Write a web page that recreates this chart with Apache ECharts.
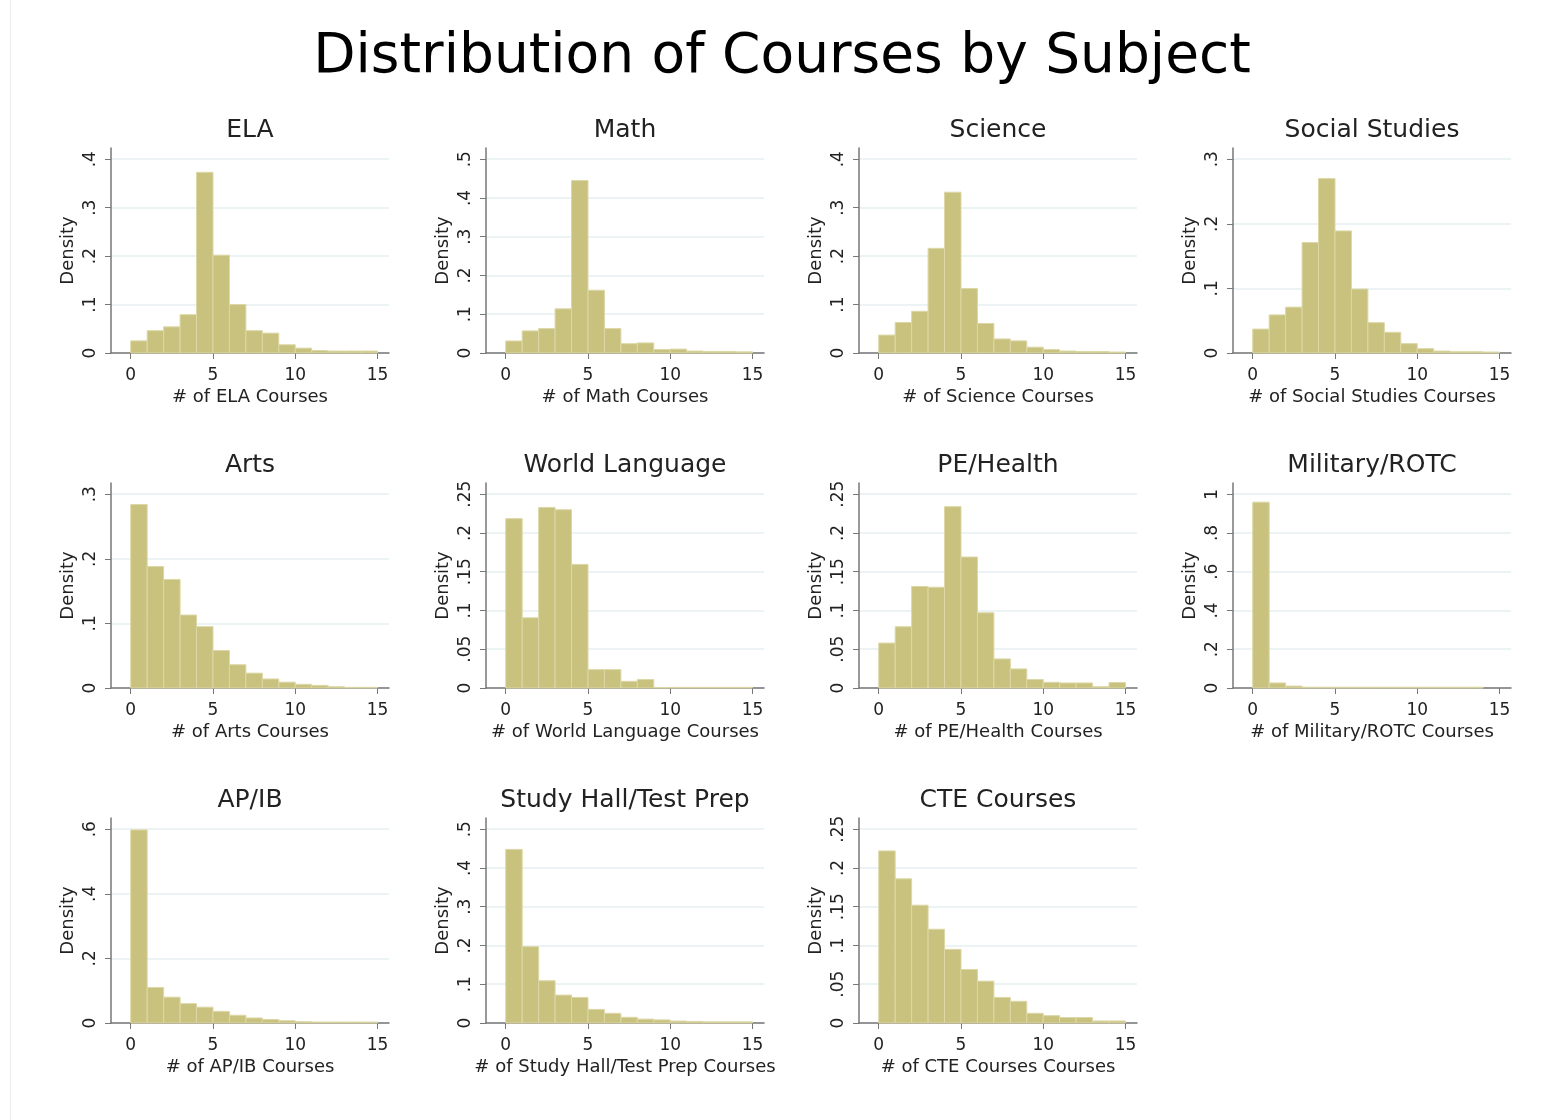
<!DOCTYPE html>
<html>
<head>
<meta charset="utf-8">
<script src="https://cdn.jsdelivr.net/npm/echarts@6/dist/echarts.min.js"></script>
<style>
  html, body { margin: 0; padding: 0; background: #fff; }
  #chart { width: 1541px; height: 1120px; }
</style>
</head>
<body>
<div id="chart"></div>
<script>
// ---------- DATA ----------
const mainTitle = 'Distribution of Courses by Subject';
const subjects = ['ELA', 'Math', 'Science', 'Social Studies', 'Arts', 'World Language',
  'PE/Health', 'Military/ROTC', 'AP/IB', 'Study Hall/Test Prep', 'CTE Courses'];
const binStarts = [0, 1, 2, 3, 4, 5, 6, 7, 8, 9, 10, 11, 12, 13, 14];
const binWidth = 1;

const densELA      = [0.025, 0.046, 0.054, 0.079, 0.373, 0.202, 0.100, 0.046, 0.041, 0.017, 0.010, 0.005, 0.004, 0.004, 0.004];
const densMath     = [0.031, 0.057, 0.063, 0.114, 0.445, 0.162, 0.063, 0.024, 0.026, 0.009, 0.010, 0.005, 0.004, 0.004, 0.003];
const densScience  = [0.037, 0.063, 0.086, 0.216, 0.332, 0.133, 0.061, 0.029, 0.025, 0.012, 0.007, 0.004, 0.003, 0.003, 0.002];
const densSocial   = [0.037, 0.059, 0.071, 0.171, 0.270, 0.189, 0.099, 0.047, 0.032, 0.0145, 0.0067, 0.003, 0.002, 0.002, 0.0015];
const densArts     = [0.284, 0.188, 0.168, 0.113, 0.095, 0.058, 0.036, 0.023, 0.014, 0.009, 0.0057, 0.004, 0.002, 0.001, 0.001];
const densWorldLang= [0.2185, 0.0905, 0.233, 0.230, 0.1595, 0.0237, 0.0237, 0.0086, 0.011, 0.0006, 0.0008, 0.0008, 0.0008, 0.0008, 0.0008];
const densPE       = [0.058, 0.079, 0.131, 0.130, 0.234, 0.169, 0.097, 0.0375, 0.0246, 0.011, 0.0073, 0.0065, 0.0065, 0.0017, 0.007];
const densMilitary = [0.959, 0.026, 0.010, 0.004, 0.004, 0.004, 0.004, 0.004, 0.004, 0.004, 0.004, 0.004, 0.004, 0.004, 0];
const densAPIB     = [0.598, 0.110, 0.080, 0.060, 0.049, 0.036, 0.024, 0.0155, 0.011, 0.007, 0.004, 0.003, 0.003, 0.003, 0.003];
const densStudy    = [0.448, 0.197, 0.109, 0.072, 0.066, 0.035, 0.025, 0.0147, 0.010, 0.008, 0.005, 0.004, 0.003, 0.003, 0.003];
const densCTE      = [0.222, 0.186, 0.152, 0.121, 0.095, 0.069, 0.054, 0.033, 0.028, 0.0125, 0.0095, 0.007, 0.007, 0.0026, 0.0026];

const densities = [densELA, densMath, densScience, densSocial, densArts, densWorldLang,
  densPE, densMilitary, densAPIB, densStudy, densCTE];

const xTickValues = [0, 5, 10, 15];
const yTopTick = [0.4, 0.5, 0.4, 0.3, 0.3, 0.25, 0.25, 1, 0.6, 0.5, 0.25];
const yTickStep = [0.1, 0.1, 0.1, 0.1, 0.1, 0.05, 0.05, 0.2, 0.2, 0.1, 0.05];

// ---------- LAYOUT ----------
const colLeft = [111, 486, 859, 1233];
const rowTop = [148, 483, 818];
const gridW = 278;
const gridH = 205;
const FONT = 'DejaVu Sans';

function yTicks(i) {
  const n = Math.round(yTopTick[i] / yTickStep[i]);
  const arr = [];
  for (let k = 0; k <= n; k++) arr.push(+(k * yTickStep[i]).toFixed(4));
  return arr;
}
function fmtY(v) {
  if (v === 0) return '0';
  return String(+(+v).toFixed(4)).replace(/^0\./, '.');
}

const grids = [], xAxes = [], yAxes = [], series = [], titles = [];
titles.push({
  text: mainTitle, left: 782, top: 30, textAlign: 'center', padding: 0,
  textStyle: { fontFamily: FONT, fontSize: 55, fontWeight: 'normal', color: '#000' }
});

subjects.forEach((name, i) => {
  const c = i % 4, r = Math.floor(i / 4);
  const left = colLeft[c], top = rowTop[r];
  grids.push({ left: left, top: top, width: gridW, height: gridH, containLabel: false, outerBoundsMode: 'none' });
  titles.push({
    text: name, left: left + gridW / 2, top: top - 30, textAlign: 'center', padding: 0,
    textStyle: { fontFamily: FONT, fontSize: 25, fontWeight: 'normal', color: '#222' }
  });
  xAxes.push({
    gridIndex: i, type: 'value', min: -1.2, max: 15.7,
    name: '# of ' + name + ' Courses', nameLocation: 'middle', nameGap: 35,
    nameTextStyle: { fontFamily: FONT, fontSize: 18, color: '#222' },
    axisLine: { onZero: false, lineStyle: { color: '#777', width: 1.5 } },
    axisTick: { show: true, length: 6, customValues: xTickValues, lineStyle: { color: '#777' } },
    axisLabel: { customValues: xTickValues, margin: 14, fontFamily: FONT, fontSize: 17, color: '#222' },
    splitLine: { show: false }
  });
  const yt = yTicks(i);
  yAxes.push({
    gridIndex: i, type: 'value', min: 0, max: yTopTick[i] * 1.058,
    name: 'Density', nameLocation: 'middle', nameGap: 34, nameRotate: 90,
    nameTextStyle: { fontFamily: FONT, fontSize: 18, color: '#222' },
    axisLine: { show: true, onZero: false, lineStyle: { color: '#777', width: 1.5 } },
    axisTick: { show: true, length: 6, customValues: yt, lineStyle: { color: '#777' } },
    axisLabel: { customValues: yt, rotate: 90, margin: 12, fontFamily: FONT, fontSize: 17, color: '#222',
      formatter: fmtY },
    splitLine: { show: true, lineStyle: { color: '#e6eff1', width: 1.5 } }
  });
  series.push({
    type: 'custom', xAxisIndex: i, yAxisIndex: i,
    data: binStarts.map((b, k) => [b, densities[i][k]]),
    renderItem: function (params, api) {
      const x0 = api.value(0), v = api.value(1);
      if (!(v > 0)) return null;
      const p1 = api.coord([x0, v]);
      const p2 = api.coord([x0 + binWidth, 0]);
      return {
        type: 'rect',
        shape: { x: p1[0], y: p1[1], width: p2[0] - p1[0], height: p2[1] - p1[1] },
        style: { fill: '#c8c27e', stroke: '#dcd7a6', lineWidth: 1 }
      };
    },
    silent: true, animation: false
  });
});

const chart = echarts.init(document.getElementById('chart'), null, { renderer: 'canvas' });
chart.setOption({
  backgroundColor: '#fff',
  animation: false,
  title: titles,
  grid: grids,
  xAxis: xAxes,
  yAxis: yAxes,
  series: series,
  graphic: [{
    type: 'line', silent: true,
    shape: { x1: 10.5, y1: 0, x2: 10.5, y2: 1120 },
    style: { stroke: '#ececec', lineWidth: 1 }
  }]
});
</script>
</body>
</html>
